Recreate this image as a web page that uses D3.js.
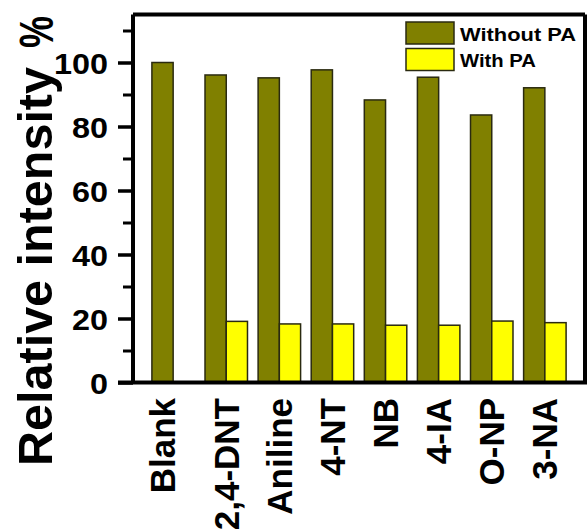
<!DOCTYPE html>
<html>
<head>
<meta charset="utf-8">
<script src="https://cdn.jsdelivr.net/npm/d3@7"></script>
<style>
  html, body { margin: 0; padding: 0; background: #fff; }
  svg { display: block; }
  text { font-family: "Liberation Sans", Arial, Helvetica, sans-serif; font-weight: bold; fill: #000; }
</style>
</head>
<body>
<svg id="chart" width="587" height="530"></svg>
<script>
// ---- data ----
const categories = ["Blank", "2,4-DNT", "Aniline", "4-NT", "NB", "4-IA", "O-NP", "3-NA"];
const seriesNames = ["Without PA", "With PA"];
const withoutPA = [100, 96.1, 95.2, 97.7, 88.3, 95.4, 83.6, 92.1];
const withPA = [null, 19.1, 18.3, 18.3, 17.9, 17.9, 19.2, 18.7];
const majorTicks = [0, 20, 40, 60, 80, 100];
const minorTicks = [10, 30, 50, 70, 90, 110];
const yTitle = "Relative intensity";
const yUnit = "%";

(function () {
const colors = ["#808000", "#ffff00"];
const svg = d3.select("#chart");

const pLeft = 133, pRight = 585, pTop = 14.5, pBottom = 382.5;

const x0 = d3.scaleBand().domain(categories).range([pLeft, pRight])
  .paddingInner(0.2).paddingOuter(0.356);
const x1 = d3.scaleBand().domain(seriesNames).range([0, x0.bandwidth()]).padding(0);
const y = d3.scaleLinear().domain([0, 115]).range([pBottom, pTop]);

const values = [withoutPA, withPA];

// bars
const g = svg.append("g");
seriesNames.forEach((s, si) => {
  g.selectAll(".bar" + si)
    .data(categories.map((c, i) => ({ c, v: values[si][i] })).filter(d => d.v != null))
    .enter().append("rect")
    .attr("x", d => x0(d.c) + x1(s))
    .attr("y", d => y(d.v))
    .attr("width", x1.bandwidth())
    .attr("height", d => y(0) - y(d.v))
    .attr("fill", colors[si])
    .attr("stroke", "#2a2a10")
    .attr("stroke-width", 1.5);
});

// frame: top and right
svg.append("line").attr("x1", pLeft).attr("x2", pRight).attr("y1", pTop).attr("y2", pTop)
  .attr("stroke", "#000").attr("stroke-width", 4);
svg.append("line").attr("x1", pRight).attr("x2", pRight).attr("y1", pTop).attr("y2", pBottom)
  .attr("stroke", "#000").attr("stroke-width", 4);

// y axis (major)
const yAxis = d3.axisLeft(y).tickValues(majorTicks).tickSize(15).tickPadding(10).tickSizeOuter(0);
const ya = svg.append("g").attr("transform", `translate(${pLeft},0)`).call(yAxis);
ya.select(".domain").attr("stroke", "#000").attr("stroke-width", 4)
  .attr("d", `M0,${pTop}V${pBottom}`);
ya.selectAll(".tick line").attr("stroke", "#000").attr("stroke-width", 3.5);
ya.selectAll(".tick text").style("font-size", "30px").style("font-family", "'Liberation Sans', Arial, sans-serif")
  .style("font-weight", "bold").attr("fill", "#000").attr("dy", "0.36em")
  .attr("textLength", d => String(d).length * 18).attr("lengthAdjust", "spacingAndGlyphs");
// minor ticks
const yMinor = d3.axisLeft(y).tickValues(minorTicks).tickSize(10).tickFormat("").tickSizeOuter(0);
const ym = svg.append("g").attr("transform", `translate(${pLeft},0)`).call(yMinor);
ym.select(".domain").remove();
ym.selectAll(".tick line").attr("stroke", "#000").attr("stroke-width", 3);

// x axis line
svg.append("line").attr("x1", pLeft - 15).attr("x2", pRight + 2).attr("y1", pBottom).attr("y2", pBottom)
  .attr("stroke", "#000").attr("stroke-width", 4);

// x labels
const fsX = 35;
svg.selectAll(".xlab").data(categories).enter().append("text")
  .attr("transform", (c, i) => {
    const cx = withPA[i] == null ? x0(c) + x1(seriesNames[0]) + x1.bandwidth() / 2 : x0(c) + x0.bandwidth() / 2;
    return `translate(${cx + fsX * 0.358},${398}) rotate(-90)`;
  })
  .attr("text-anchor", "end")
  .style("font-size", fsX + "px")
  .text(d => d);

// y title
svg.append("text")
  .attr("transform", `translate(52,67) rotate(-90)`)
  .attr("text-anchor", "end")
  .style("font-size", "48.5px")
  .text(yTitle);
svg.append("text")
  .attr("transform", `translate(53,48) rotate(-90) scale(1,1.35)`)
  .attr("text-anchor", "start")
  .style("font-size", "36px")
  .text(yUnit);

// legend
const lg = svg.append("g");
seriesNames.forEach((s, i) => {
  lg.append("rect").attr("x", 406).attr("y", 22 + i * 26.5).attr("width", 48).attr("height", 22)
    .attr("fill", colors[i]).attr("stroke", "#2a2a10").attr("stroke-width", 1.5);
  lg.append("text").attr("x", 460).attr("y", 40.5 + i * 26.5)
    .style("font-size", "19px")
    .attr("textLength", i === 0 ? 116 : 76).attr("lengthAdjust", "spacingAndGlyphs")
    .text(s);
});
})();
</script>
</body>
</html>
